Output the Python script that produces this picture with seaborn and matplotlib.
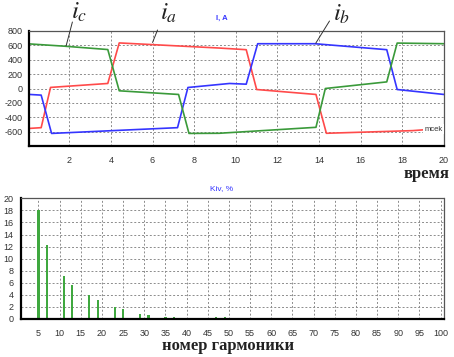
import numpy as np
import pandas as pd
import matplotlib
matplotlib.use('Agg')
import matplotlib.pyplot as plt
import seaborn as sns
from matplotlib.ticker import MultipleLocator

# phase currents, breakpoints (t in ms, I in A)
t_a = [0.1, 0.65, 1.1, 3.85, 4.4, 9.2, 10.5, 11.0, 13.85, 14.35, 18.5, 20.0]
i_a = [-555, -545, 15, 70, 634, 563, 540, -14, -83, -623, -586, -554]

t_b = [0.1, 0.65, 1.15, 7.2, 7.7, 9.7, 10.5, 11.05, 13.8, 17.25, 17.75, 20.0]
i_b = [-83, -92, -625, -545, 14, 70, 60, 623, 623, 540, -14, -83]

t_c = [0.1, 1.8, 3.85, 4.4, 7.25, 7.75, 9.2, 13.85, 14.3, 17.25, 17.75, 20.0]
i_c = [620, 588, 542, -32, -83, -625, -623, -540, 0, 92, 632, 623]

# harmonic spectrum
harm = [5, 7, 11, 13, 17, 19, 23, 25, 29, 31, 35, 37, 41, 43, 47, 49, 53, 55, 59, 61, 65, 67]
kiv = [18.0, 12.3, 7.2, 5.7, 3.9, 3.1, 2.0, 1.7, 0.9, 0.65, 0.3, 0.25, 0.2, 0.2,
       0.35, 0.35, 0.2, 0.15, 0.2, 0.15, 0.1, 0.1]

df = pd.concat([
    pd.DataFrame({'t': t_a, 'I': i_a, 'phase': 'a'}),
    pd.DataFrame({'t': t_b, 'I': i_b, 'phase': 'b'}),
    pd.DataFrame({'t': t_c, 'I': i_c, 'phase': 'c'}),
])
colors = {'a': '#ff4a4a', 'b': '#3535ff', 'c': '#3a9a3a'}

sns.set_style('white')
plt.rcParams['font.family'] = ['Liberation Sans', 'DejaVu Sans']
plt.rcParams['mathtext.fontset'] = 'stix'
plt.rcParams['axes.unicode_minus'] = False

W, H = 454, 357
fig = plt.figure(figsize=(W / 100, H / 100), dpi=100)


def px_axes(l, t, r, b):
    return fig.add_axes([l / W, 1 - b / H, (r - l) / W, (b - t) / H])


def style(ax):
    for s in ['left', 'bottom']:
        ax.spines[s].set_color('black')
        ax.spines[s].set_linewidth(1.6)
    for s in ['top', 'right']:
        ax.spines[s].set_color('#555555')
        ax.spines[s].set_linewidth(0.9)
        ax.spines[s].set_linestyle((0, (2, 1)))
    ax.set_axisbelow(True)
    ax.xaxis.grid(True, which='major', color='#8c8c8c', linestyle=(0, (2, 2)), linewidth=0.7)
    ax.yaxis.grid(True, which='major', color='#8c8c8c', linestyle=(0, (2, 2)), linewidth=0.7)
    ax.tick_params(labelsize=6.5, labelcolor='#333333', length=2, width=0.6,
                   color='#555555', pad=3)
    ax.set_xlabel('')
    ax.set_ylabel('')


# top: currents
ax1 = px_axes(29.3, 31, 444, 146)
sns.lineplot(data=df, x='t', y='I', hue='phase', palette=colors, estimator=None,
             sort=False, legend=False, linewidth=1.2, ax=ax1)
ax1.set_xlim(0.08, 20)
ax1.set_ylim(-800, 800)
ax1.set_yticks(np.arange(-600, 801, 200))
ax1.set_xticks(np.arange(2, 21, 2))
style(ax1)
ax1.tick_params(axis='x', pad=5)

ax1.text(0.465, 1.11, 'I, A', transform=ax1.transAxes, color='#3535ff',
         fontsize=5.5, fontweight='bold', ha='center', va='center')
ax1.text(19.5, -565, 'mcek', fontsize=5.5, color='#333333', ha='center', va='center',
         bbox=dict(facecolor='white', edgecolor='none', pad=0.8))
fig.text(427 / W, 1 - 174 / H, 'время', fontsize=12, fontweight='bold',
         family='Liberation Serif', ha='center', va='center', color='#222222')

arrow = dict(arrowstyle='-', color='#333333', lw=0.7, shrinkA=0, shrinkB=0)
for lab, xy, xyl, xyt in [('$i_c$', (1.85, 595), (2.15, 925), (2.5, 1065)),
                          ('$i_a$', (6.0, 640), (6.24, 814), (6.75, 1055)),
                          ('$i_b$', (13.84, 630), (14.5, 939), (15.1, 1040))]:
    ax1.annotate('', xy=xy, xytext=xyl, arrowprops=arrow, annotation_clip=False)
    ax1.text(xyt[0], xyt[1], lab, fontsize=18, ha='center', va='center',
             color='#222222', clip_on=False)

# bottom: harmonic spectrum
ax2 = px_axes(20.7, 198.3, 444, 319)
sns.barplot(x=harm, y=kiv, native_scale=True, color='#3fa83f', saturation=1,
            width=0.25, linewidth=0, ax=ax2)
ax2.set_xlim(0.8, 100.8)
ax2.set_ylim(0, 20)
ax2.set_xticks(np.arange(5, 101, 5))
ax2.set_yticks(np.arange(0, 21, 2))
ax2.xaxis.set_minor_locator(MultipleLocator(1))
style(ax2)
ax2.tick_params(axis='x', which='minor', length=1.5, width=0.5, color='#555555')
ax2.tick_params(axis='x', pad=5)

ax2.text(0.475, 1.08, 'Kiv, %', transform=ax2.transAxes, color='#3535ff',
         fontsize=6, ha='center', va='center')
fig.text(228 / W, 1 - 346 / H, 'номер гармоники', fontsize=12, fontweight='bold',
         family='Liberation Serif', ha='center', va='center', color='#222222')

fig.savefig('out.png', dpi=100)
